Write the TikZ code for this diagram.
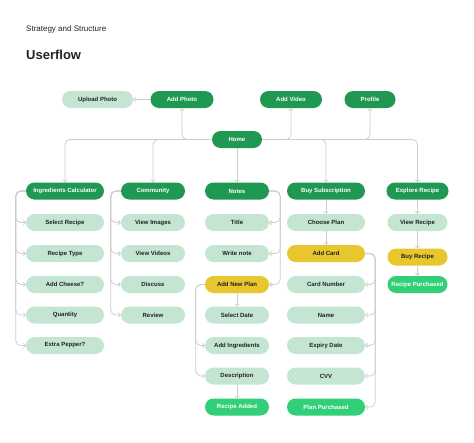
\documentclass[tikz,border=0pt]{standalone}
\usepackage{fontspec}
\setmainfont{Liberation Sans}
\usetikzlibrary{arrows.meta}

\definecolor{flowdark}{HTML}{1F9852}
\definecolor{flowmint}{HTML}{C5E5D3}
\definecolor{flowyellow}{HTML}{E8C62E}
\definecolor{flowbright}{HTML}{30CF78}
\definecolor{flowline}{HTML}{CDCDCD}
\definecolor{flowtext}{HTML}{222222}

\tikzset{
  pill/.style={rounded corners=8.5pt, minimum height=17pt, inner sep=0pt,
    font=\fontsize{6}{7}\selectfont\bfseries},
  main/.style={pill, fill=flowdark, text=white},
  sub/.style={pill, fill=flowmint, text=flowtext},
  pay/.style={pill, fill=flowyellow, text=flowtext},
  done/.style={pill, fill=flowbright, text=white},
  conn/.style={flowline, line width=0.7pt, rounded corners=5pt,
    -{Straight Barb[length=2pt,width=4.5pt]}},
}

\begin{document}
\begin{tikzpicture}[x=1pt, y=-1pt]
    \useasboundingbox[fill=white] (0,0) rectangle (474,442);

    % Titulos
    \node[anchor=west, inner sep=0pt, text=flowtext, font=\fontsize{8}{9}\selectfont] (sub) at (26,29) {Strategy and Structure};
    \node[anchor=west, inner sep=0pt, text=flowtext, font=\fontsize{13}{15}\selectfont\bfseries] (title) at (26,55) {Userflow};

    % Fila superior
    \node[sub, minimum width=71pt] (upload) at (97.5,99.5) {Upload Photo};
    \node[main, minimum width=63pt] (addphoto) at (182,99.5) {Add Photo};
    \node[main, minimum width=62pt] (addvideo) at (291,99.5) {Add Video};
    \node[main, minimum width=51pt] (profile) at (370,99.5) {Profile};
    \node[main, minimum width=50pt] (home) at (237,139.5) {Home};

    % Secciones
    \node[main, minimum width=78pt] (calc) at (65,191) {Ingredients Calculator};
    \node[main, minimum width=64pt] (community) at (153,191) {Community};
    \node[main, minimum width=64pt] (notes) at (237,191) {Notes};
    \node[main, minimum width=78pt] (buy) at (326,191) {Buy Subscription};
    \node[main, minimum width=62pt] (explore) at (417.5,191) {Explore Recipe};

    % Ingredients Calculator
    \foreach \n/\t/\y in {ca/Select Recipe/222.5, cb/Recipe Type/253.5, cc/Add Cheese?/284.5,
                          cd/Quantity/315, ce/Extra Pepper?/345.5}
        \node[sub, minimum width=78pt] (\n) at (65,\y) {\t};

    % Community
    \foreach \n/\t/\y in {ma/View Images/222.5, mb/View Videos/253.5, mc/Discuss/284.5, md/Review/315}
        \node[sub, minimum width=64pt] (\n) at (153,\y) {\t};

    % Notes
    \node[sub, minimum width=64pt] (title1) at (237,222.5) {Title};
    \node[sub, minimum width=64pt] (write) at (237,253.5) {Write note};
    \node[pay, minimum width=64pt] (plan) at (237,284.5) {Add New Plan};
    \node[sub, minimum width=64pt] (date) at (237,315) {Select Date};
    \node[sub, minimum width=64pt] (ingr) at (237,345.5) {Add Ingredients};
    \node[sub, minimum width=64pt] (desc) at (237,376) {Description};
    \node[done, minimum width=64pt] (added) at (237,407) {Recipe Added};

    % Buy Subscription
    \node[sub, minimum width=78pt] (choose) at (326,222.5) {Choose Plan};
    \node[pay, minimum width=78pt] (card) at (326,253.5) {Add Card};
    \node[sub, minimum width=78pt] (cnum) at (326,284.5) {Card Number};
    \node[sub, minimum width=78pt] (name) at (326,315) {Name};
    \node[sub, minimum width=78pt] (expiry) at (326,345.5) {Expiry Date};
    \node[sub, minimum width=78pt] (cvv) at (326,376) {CVV};
    \node[done, minimum width=78pt] (paid) at (326,407) {Plan Purchased};

    % Explore Recipe
    \node[sub, minimum width=60pt] (view) at (417.5,222.5) {View Recipe};
    \node[pay, minimum width=60pt] (buyrec) at (417.5,257) {Buy Recipe};
    \node[done, minimum width=60pt] (bought) at (417.5,284.5) {Recipe Purchased};

    % Conexiones desde Home
    \draw[conn] (addphoto) -- (upload);
    \draw[conn] (home.west) -| (addphoto.south);
    \draw[conn] (home.west) -| (calc.north);
    \draw[conn] (home.west) -| (community.north);
    \draw[conn] (home) -- (notes);
    \draw[conn] (home.east) -| (addvideo.south);
    \draw[conn] (home.east) -| (profile.south);
    \draw[conn] (home.east) -| (buy.north);
    \draw[conn] (home.east) -| (explore.north);

    % Ramas de cada columna
    \foreach \n in {ca, cb, cc, cd, ce}
        \draw[conn] (calc.west) -- ++(-10,0) |- (\n.west);
    \foreach \n in {ma, mb, mc, md}
        \draw[conn] (community.west) -- ++(-10,0) |- (\n.west);
    \foreach \n in {title1, write, plan}
        \draw[conn] (notes.east) -- ++(11,0) |- (\n.east);
    \foreach \n in {ingr, desc}
        \draw[conn] (plan.west) -- ++(-9,0) |- (\n.west);
    \draw[conn] (plan) -- (date);
    \draw[conn] (desc) -- (added);
    \draw[conn] (buy) -- (choose);
    \draw[conn] (choose) -- (card);
    \foreach \n in {cnum, name, expiry, cvv, paid}
        \draw[conn] (card.east) -- ++(10,0) |- (\n.east);
    \draw[conn] (explore) -- (view);
    \draw[conn] (view) -- (buyrec);
    \draw[conn] (buyrec) -- (bought);

\end{tikzpicture}
\end{document}
